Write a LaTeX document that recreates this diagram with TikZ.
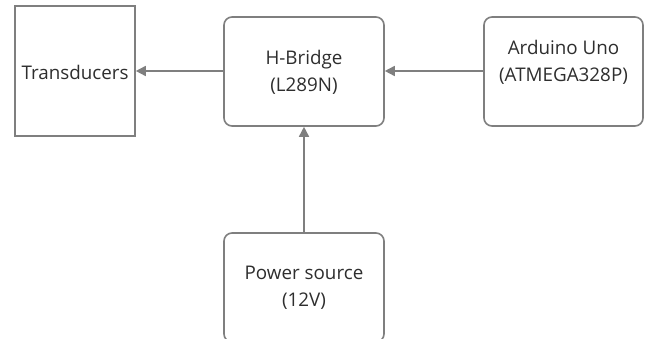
\documentclass[tikz,border=0pt]{standalone}
\usepackage{fontspec}
\setmainfont{Open Sans}
\usetikzlibrary{arrows.meta}
\definecolor{linegray}{HTML}{7F7F7F}
\definecolor{textgray}{HTML}{2E2E2E}
\tikzset{
  box/.style={draw=linegray, line width=1.6pt, fill=white, inner sep=0pt},
  rbox/.style={box, rounded corners=8pt},
  lbl/.style={text=textgray, align=center, font=\fontsize{18.8}{27}\selectfont, inner sep=0pt},
  conn/.style={draw=linegray, line width=1.6pt, -{Triangle[length=10pt,width=10pt]}}
}
\begin{document}
\begin{tikzpicture}[x=1pt,y=-1pt]
\useasboundingbox (0,0) rectangle (646,339);
\clip (0,0) rectangle (646,339);
\node[box, minimum width=120pt, minimum height=130pt] (trans) at (75,71) {};
\node[lbl] (transt) at (75,72) {Transducers};
\node[rbox, minimum width=160pt, minimum height=109pt] (hb) at (304,71.5) {};
\node[lbl] (hbt) at (304,72) {H-Bridge\\(L289N)};
\node[rbox, minimum width=159pt, minimum height=109pt] (ard) at (563.5,71.5) {};
\node[lbl] (ardt) at (563.5,62) {Arduino Uno\\(ATMEGA328P)};
\node[rbox, minimum width=160pt, minimum height=109pt] (pow) at (304,287.5) {};
\node[lbl] (powt) at (304,288) {Power source\\(12V)};
\draw[conn] (ard.west |- 0,71) -- (hb.east |- 0,71);
\draw[conn] (hb.west |- 0,71) -- (trans.east |- 0,71);
\draw[conn] (pow.north) -- (hb.south);
\end{tikzpicture}
\end{document}
